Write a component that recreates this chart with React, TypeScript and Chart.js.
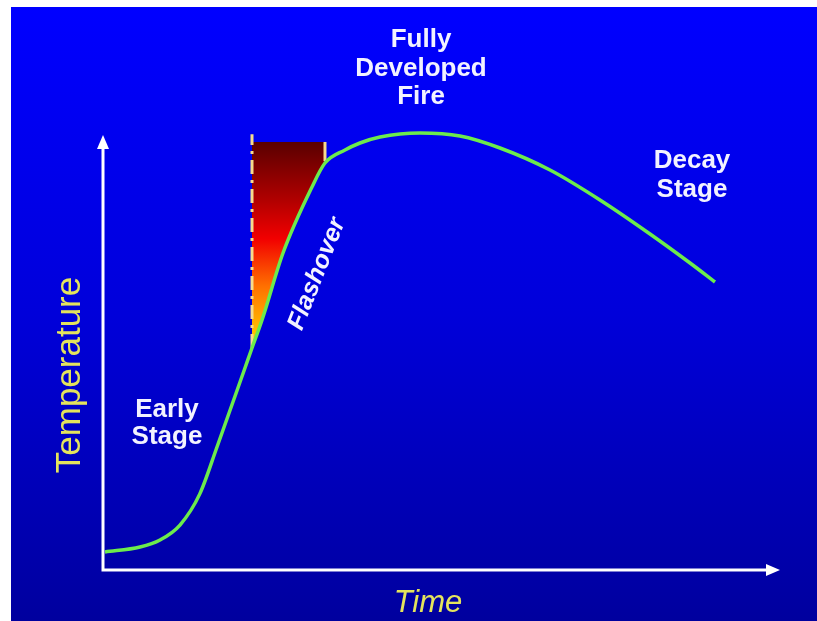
import React, { useEffect, useRef } from "react";
import { Chart, registerables } from "chart.js";

Chart.register(...registerables);

// Fire development curve (time in % of axis, temperature in % of axis)
const timeValues = [0.3, 5.47, 8.42, 11.37, 14.3, 16.84, 20.97, 22.01, 23.49, 26.59, 30.87, 32.79, 35.75, 37.96, 40.92, 46.82, 52.73, 58.64, 66.03, 73.41, 80.8, 86.71, 90.4];
const temperatureValues = [4.14, 5.29, 6.9, 10.34, 17.5, 28.28, 46.44, 51.03, 57.47, 72.87, 88.05, 93.56, 96.55, 98.16, 99.54, 100.46, 99.77, 97.01, 91.95, 85.06, 77.24, 70.57, 66.21];

// Flashover region
const flashoverTime = [22.01, 23.49, 26.59, 30.87, 32.79];
const flashoverTemp = [51.03, 57.47, 72.87, 88.05, 93.56];
const flashoverCeiling = 98.4;
const flashoverLeftDash = [51.03, 100.2];
const flashoverRightDash = [94.0, 98.4];

const axisMax = 100;
const xTitle = "Time";
const yTitle = "Temperature";
const labelFully = ["Fully", "Developed", "Fire"];
const labelDecay = ["Decay", "Stage"];
const labelEarly = ["Early", "Stage"];
const labelFlash = "Flashover";

const W = 817;
const H = 621;

export default function App() {
  const ref = useRef<HTMLCanvasElement | null>(null);

  useEffect(() => {
    const canvas = ref.current;
    if (!canvas) return;

    const bgPlugin = {
      id: "bg",
      beforeDraw(chart: any) {
        const c = chart.ctx;
        c.save();
        c.fillStyle = "#ffffff";
        c.fillRect(0, 0, W, H);
        const g = c.createLinearGradient(0, 7, 0, H);
        g.addColorStop(0, "#0000FF");
        g.addColorStop(0.5, "#0000DA");
        g.addColorStop(1, "#00009E");
        c.fillStyle = g;
        c.fillRect(11, 7, W - 11, H - 7);
        c.restore();
      },
    };

    const axesPlugin = {
      id: "arrowAxes",
      beforeDatasetsDraw(chart: any) {
        const c = chart.ctx;
        const xs = chart.scales.x;
        const ys = chart.scales.y;
        const x0 = xs.getPixelForValue(0);
        const x1 = xs.getPixelForValue(axisMax);
        const y0 = ys.getPixelForValue(0);
        const y1 = ys.getPixelForValue(axisMax);
        c.save();
        c.strokeStyle = "#ffffff";
        c.fillStyle = "#ffffff";
        c.lineWidth = 3;
        c.beginPath();
        c.moveTo(x0, y1 + 10);
        c.lineTo(x0, y0);
        c.lineTo(x1 - 10, y0);
        c.stroke();
        // arrow heads
        c.beginPath();
        c.moveTo(x1, y0);
        c.lineTo(x1 - 14, y0 - 6);
        c.lineTo(x1 - 14, y0 + 6);
        c.closePath();
        c.fill();
        c.beginPath();
        c.moveTo(x0, y1);
        c.lineTo(x0 - 6, y1 + 14);
        c.lineTo(x0 + 6, y1 + 14);
        c.closePath();
        c.fill();
        c.restore();
      },
      afterDatasetsDraw(chart: any) {
        const c = chart.ctx;
        c.save();
        c.textAlign = "center";
        c.textBaseline = "alphabetic";
        // axis titles
        c.fillStyle = "#E4E45C";
        c.font = "italic 31px 'Liberation Sans', Arial, sans-serif";
        c.fillText(xTitle, 428, 612);
        c.save();
        c.translate(80, 375);
        c.rotate(-Math.PI / 2);
        c.font = "35px 'Liberation Sans', Arial, sans-serif";
        c.fillText(yTitle, 0, 0);
        c.restore();
        // stage labels
        c.fillStyle = "#F2F2FF";
        c.font = "bold 26px 'Liberation Sans', Arial, sans-serif";
        labelFully.forEach((t, i) => c.fillText(t, 421, 47 + i * 28.5));
        labelDecay.forEach((t, i) => c.fillText(t, 692, 168 + i * 29));
        labelEarly.forEach((t, i) => c.fillText(t, 167, 417 + i * 27));
        c.save();
        c.translate(317, 274);
        c.rotate(Math.atan2(-121, 48));
        c.textBaseline = "middle";
        c.font = "italic bold 25px 'Liberation Sans', Arial, sans-serif";
        c.fillText(labelFlash, 0, 0);
        c.restore();
        c.restore();
      },
    };

    const chart = new Chart(canvas, {
      type: "line",
      data: {
        datasets: [
          {
            label: "Fire curve",
            data: timeValues.map((x, i) => ({ x, y: temperatureValues[i] })),
            borderColor: "#6CEB4C",
            borderWidth: 3.5,
            pointRadius: 0,
            cubicInterpolationMode: "monotone",
            fill: false,
            clip: false as any,
            order: 0,
          },
          {
            label: "Flashover left",
            data: flashoverLeftDash.map((y) => ({ x: flashoverTime[0], y })),
            borderColor: "#F6DC8C",
            borderWidth: 3,
            borderDash: [14, 6, 3, 6],
            pointRadius: 0,
            fill: false,
            clip: false as any,
            order: 1,
          },
          {
            label: "Flashover right",
            data: flashoverRightDash.map((y) => ({ x: flashoverTime[flashoverTime.length - 1], y })),
            borderColor: "#F6DC8C",
            borderWidth: 3,
            pointRadius: 0,
            fill: false,
            clip: false as any,
            order: 1,
          },
          {
            label: "Flashover fill",
            data: flashoverTime.map((x, i) => ({ x, y: flashoverTemp[i] })),
            borderWidth: 0,
            borderColor: "rgba(0,0,0,0)",
            pointRadius: 0,
            cubicInterpolationMode: "monotone",
            fill: { value: flashoverCeiling },
            backgroundColor: (ctx: any) => {
              const ch = ctx.chart;
              if (!ch.chartArea) return "#ff0000";
              const ys = ch.scales.y;
              const top = ys.getPixelForValue(flashoverCeiling);
              const bot = ys.getPixelForValue(flashoverTemp[0]);
              const g = ch.ctx.createLinearGradient(0, top, 0, bot);
              g.addColorStop(0, "#5A0000");
              g.addColorStop(0.28, "#B00000");
              g.addColorStop(0.47, "#F20000");
              g.addColorStop(0.7, "#FF7000");
              g.addColorStop(0.92, "#FFC000");
              g.addColorStop(1, "#FFD800");
              return g;
            },
            clip: false as any,
            order: 2,
          },
        ],
      },
      options: {
        animation: false,
        responsive: false,
        layout: { padding: { left: 103, right: 37, top: 135, bottom: 51 } },
        plugins: {
          legend: { display: false },
          tooltip: { enabled: false },
          title: { display: false },
        },
        scales: {
          x: { type: "linear", min: 0, max: axisMax, display: false },
          y: { type: "linear", min: 0, max: axisMax, display: false },
        },
      },
      plugins: [bgPlugin, axesPlugin],
    });

    return () => chart.destroy();
  }, []);

  return (
    <div style={{ position: "absolute", left: 0, top: 0, width: W, height: H }}>
      <canvas ref={ref} width={W} height={H} style={{ display: "block" }} />
    </div>
  );
}
